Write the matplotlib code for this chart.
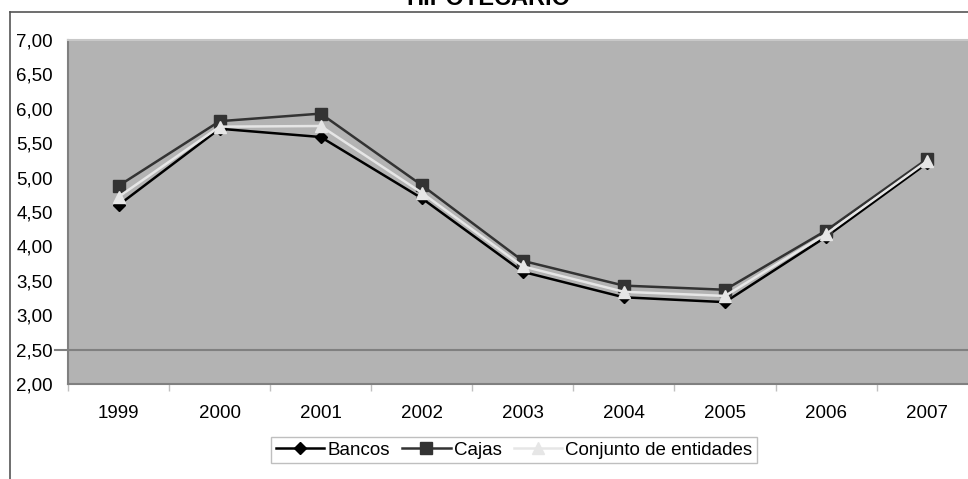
import matplotlib
matplotlib.use("Agg")
import matplotlib.pyplot as plt
from matplotlib.lines import Line2D
import numpy as np

plt.rcParams['font.family'] = ['Liberation Sans', 'DejaVu Sans']

years = ['1999', '2000', '2001', '2002', '2003', '2004', '2005', '2006', '2007']
bancos = [4.60, 5.71, 5.59, 4.70, 3.63, 3.26, 3.19, 4.14, 5.21]
cajas = [4.88, 5.82, 5.93, 4.89, 3.79, 3.43, 3.37, 4.23, 5.27]
conjunto = [4.72, 5.74, 5.75, 4.78, 3.71, 3.34, 3.28, 4.18, 5.24]
yticks = [2.0, 2.5, 3.0, 3.5, 4.0, 4.5, 5.0, 5.5, 6.0, 6.5, 7.0]
ytick_labels = ['2,00', '2,50', '3,00', '3,50', '4,00', '4,50', '5,00', '5,50', '6,00', '6,50', '7,00']
title = 'HIPOTECARIO'

W, H = 968, 479
fig = plt.figure(figsize=(W / 100, H / 100), dpi=100)
fig.patch.set_facecolor('white')

# chart area border (left and top visible)
fig.add_artist(Line2D([10 / W, 10 / W], [0, 1 - 12 / H], color='#555555', lw=1.2))
fig.add_artist(Line2D([10 / W, 1], [1 - 12 / H, 1 - 12 / H], color='#555555', lw=1.2))

# title clipped at top
fig.text(488 / W, 1 - 5 / H, title, ha='center', va='baseline', fontsize=17,
         fontweight='bold', color='black')

ax = fig.add_axes([68 / W, 1 - 384 / H, 1 - 68 / W + 0.01, (384 - 40) / H])
ax.set_facecolor('#b3b3b3')
x = np.arange(len(years))

ax.axhline(2.5, color='#808080', lw=1.5, zorder=1)
ax.plot(x, bancos, color='black', lw=1.8, marker='D', markersize=6.5,
        label='Bancos', zorder=3)
ax.plot(x, cajas, color='#333333', lw=1.8, marker='s', markersize=8,
        label='Cajas', zorder=4)
ax.plot(x, conjunto, color='#e6e6e6', lw=1.8, marker='^', markersize=8.5,
        label='Conjunto de entidades', zorder=5)

ax.set_xlim(-0.5, len(years) - 0.5)
ax.set_ylim(2.0, 7.0)
ax.set_yticks(yticks)
ax.set_yticklabels(ytick_labels)
ax.set_xticks(x)
ax.set_xticklabels(years)
ax.set_xticks(np.arange(-0.5, len(years), 1.0), minor=True)
ax.tick_params(axis='y', length=0, pad=11, labelsize=13.5)
ax.tick_params(axis='x', which='major', length=0, pad=15, labelsize=13.5)
ax.tick_params(axis='x', which='minor', length=5, color='#c0c0c0', width=1)
for s in ax.spines.values():
    s.set_color('#808080')
    s.set_linewidth(1.5)
ax.spines['top'].set_color('#c8c8c8')

# small tick at 2.50 extending left of the plot
fig.add_artist(Line2D([55 / W, 68 / W], [ax.transData.transform((0, 2.5))[1] / H] * 2,
                      color='#808080', lw=1.5))

leg = fig.legend(loc='center', bbox_to_anchor=(514 / W, 1 - 450 / H), ncol=3,
                 frameon=True, fontsize=13.5, handlelength=2.6, handletextpad=0.15,
                 columnspacing=0.65, borderpad=0.25, fancybox=False, shadow=False)
leg.get_frame().set_edgecolor('#b0b0b0')
leg.get_frame().set_linewidth(1.0)

fig.savefig('out.png', dpi=100, facecolor='white')
